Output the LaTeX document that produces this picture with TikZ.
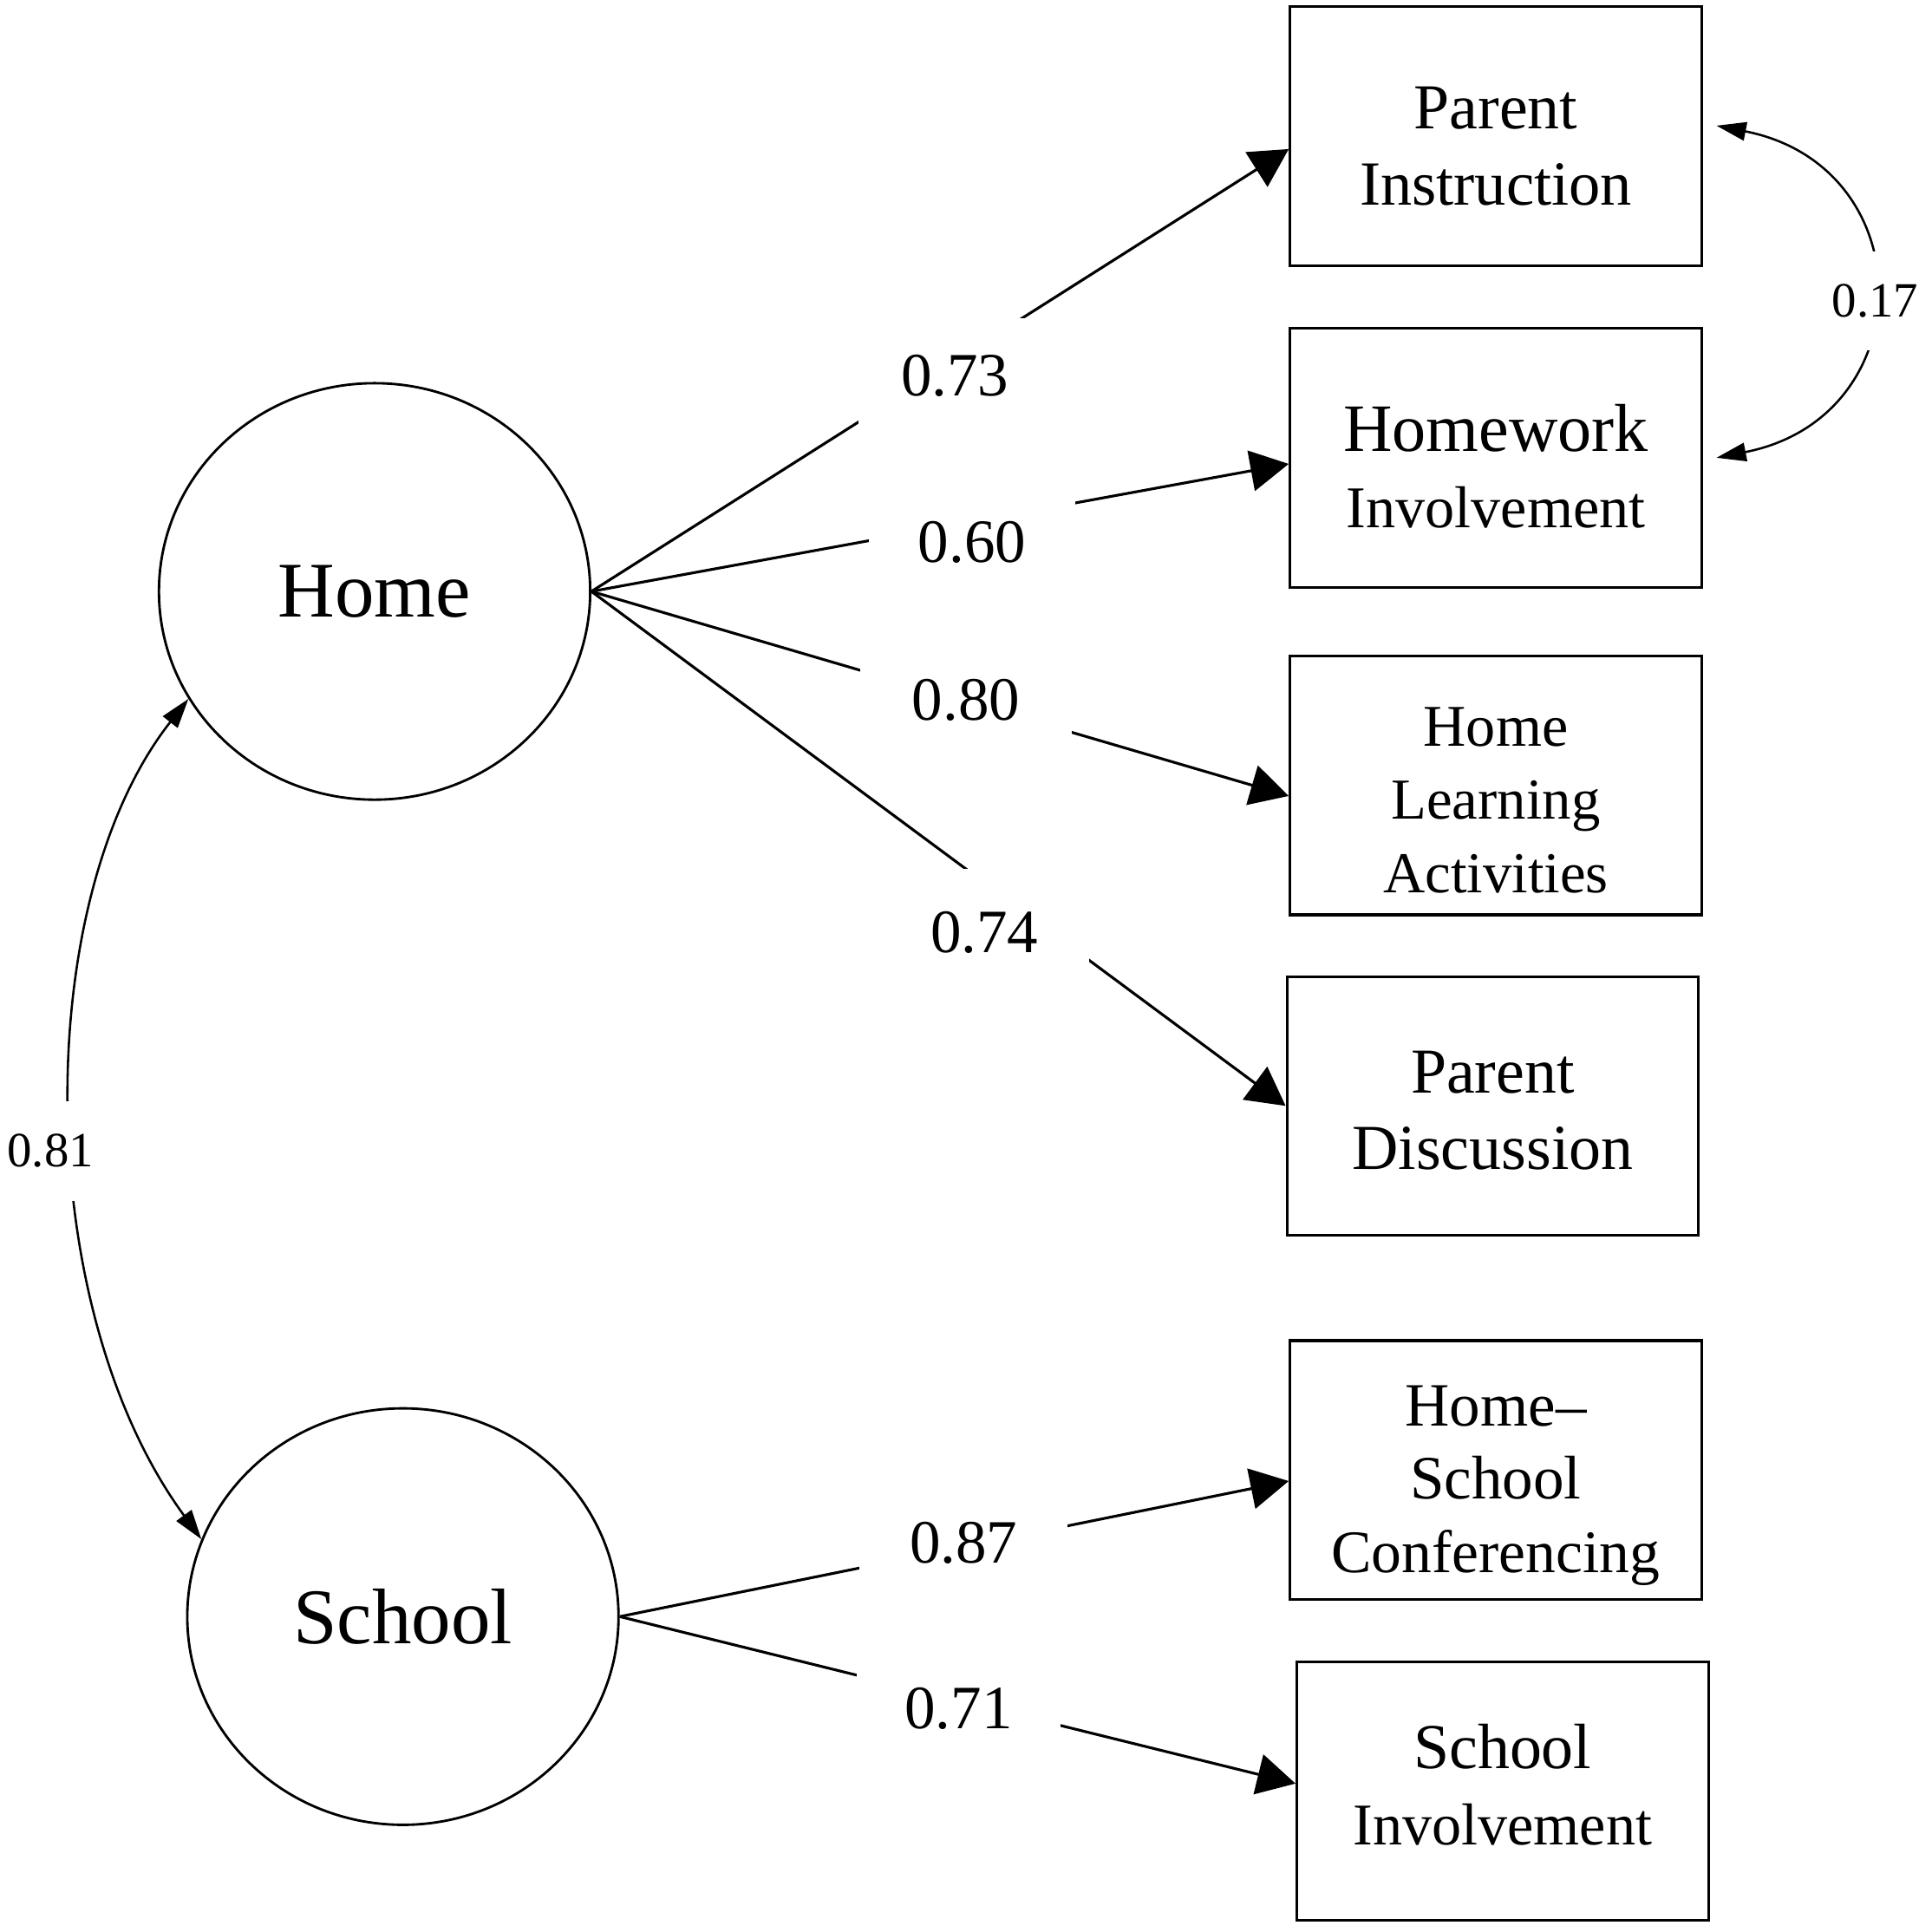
\documentclass[tikz,border=0pt]{standalone}
\usepackage{fontspec}
\setmainfont{Liberation Serif}
\usetikzlibrary{arrows.meta,shapes.geometric,calc}
\newcommand\myfs[2]{\fontsize{#1}{#2}\selectfont}
\begin{document}
\begin{tikzpicture}[x=1pt,y=-1pt,
  latent/.style={draw, ellipse, line width=2pt, minimum width=350pt, minimum height=338pt, inner sep=0pt},
  obsbox/.style={draw, rectangle, line width=2.2pt, minimum width=334pt, minimum height=210pt, inner sep=0pt},
  boxtxt/.style={align=center, inner sep=0pt, font=\myfs{50}{62}},
  boxtxtiii/.style={align=center, inner sep=0pt, font=\myfs{48}{59.5}},
  coef/.style={fill=white, inner sep=0pt, font=\myfs{50}{50}},
  corr/.style={fill=white, inner sep=0pt, font=\myfs{40}{40}},
  loading/.style={line width=2.2pt, -{Triangle[length=31pt,width=33pt]}},
  covar/.style={line width=1.8pt, {Triangle[length=24pt,width=15pt]}-{Triangle[length=24pt,width=15pt]}},
]
\fill[white] (0,0) rectangle (1568,1568);
\useasboundingbox (0,0) rectangle (1568,1568);

% latent variables
\node[latent] (home) at (304,480) {\myfs{64}{64}Home};
\node[latent] (school) at (327,1312) {\myfs{64}{64}School};

% observed variables
\node[obsbox] (pi) at (1214,110.5) {};
\node[obsbox] (hw) at (1214,371.5) {};
\node[obsbox] (hl) at (1214,637.5) {};
\node[obsbox] (pd) at (1211.5,897.5) {};
\node[obsbox] (hs) at (1214,1193) {};
\node[obsbox] (si) at (1219.5,1453.5) {};

\node[boxtxt] (pi-t) at ($(pi)+(0,8)$) {\myfs{52}{62}Parent\\\myfs{51}{62}Instruction};
\node[boxtxt] (hw-t) at ($(hw)+(0,7)$) {\myfs{55}{62}Homework\\\myfs{48}{62}Involvement};
\node[boxtxtiii] (hl-t) at ($(hl)+(0,12)$) {\myfs{48}{59}Home\\\myfs{47}{59}Learning\\\myfs{47}{59}Activities};
\node[boxtxt] (pd-t) at ($(pd)+(0,4)$) {\myfs{52}{62}Parent\\\myfs{52}{62}Discussion};
\node[boxtxtiii] (hs-t) at ($(hs)+(0,12.5)$) {\myfs{50}{60}Home–\\\myfs{50}{60}School\\\myfs{49}{60}Conferencing};
\node[boxtxt] (si-t) at ($(si)+(0,-5)$) {\myfs{52}{62}School\\\myfs{48}{62}Involvement};

% loadings
\draw[loading] (home.east) -- ($(pi.west)+(0,10.5)$);
\draw[loading] (home.east) -- ($(hw.west)+(0,5)$);
\draw[loading] (home.east) -- ($(hl.west)+(0,8.5)$);
\draw[loading] (home.east) -- (pd.west);
\draw[loading] (school.east) -- ($(hs.west)+(0,9)$);
\draw[loading] (school.east) -- ($(si.west)+(0,-6)$);

\node[coef, minimum width=156pt, minimum height=94pt] (c73) at (775,305) {0.73};
\node[coef, minimum width=167pt, minimum height=90pt] (c60) at (789,440) {0.60};
\node[coef, minimum width=172pt, minimum height=90pt] (c80) at (784,568) {0.80};
\node[coef, minimum width=170pt, minimum height=104pt] (c74) at (799,757) {0.74};
\node[coef, minimum width=169pt, minimum height=90pt] (c87) at (782,1252) {0.87};
\node[coef, minimum width=166pt, minimum height=90pt] (c71) at (778,1387) {0.71};

% covariances
\draw[covar] (home.210) .. controls (25,730) and (25,1060) .. (school.159);
\node[corr, minimum width=80pt, minimum height=81pt] (c81) at (41,934) {0.81};
\draw[covar] ($(pi.east)+(11,-8.5)$) .. controls +(168,33) and +(168,-33) .. ($(hw.east)+(11,0)$);
\node[corr, minimum width=84pt, minimum height=80pt] (c17) at (1522,244) {0.17};
\end{tikzpicture}
\end{document}
